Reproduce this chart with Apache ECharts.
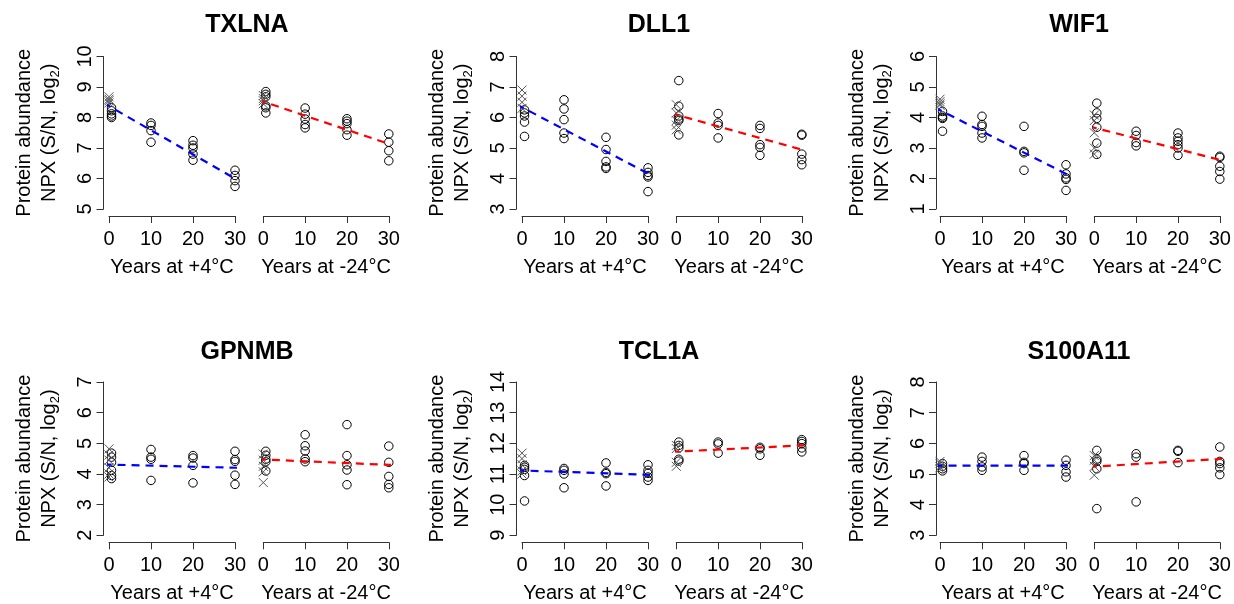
<!DOCTYPE html>
<html>
<head>
<meta charset="utf-8">
<script src="https://cdn.jsdelivr.net/npm/echarts/dist/echarts.min.js"></script>
<style>
html,body{margin:0;padding:0;background:#fff;}
#chart{width:1234px;height:604px;}
</style>
</head>
<body>
<div id="chart"></div>
<script>
// ---------- data ----------
const proteins = ['TXLNA', 'DLL1', 'WIF1', 'GPNMB', 'TCL1A', 'S100A11'];
const yTickMin = [5, 3, 1, 2, 9, 3];
const yTickMax = [10, 8, 6, 7, 14, 8];
const xTicks = [0, 10, 20, 30];
const xTitles = ['Years at +4°C', 'Years at -24°C'];
const refYear = 0;                       // crosses (baseline)
const sampleYears = [0.6, 10, 20, 30];   // circles
const fitYears = [-1.3, 31.2];           // dashed fit line extent

// +4°C  : ref = crosses, groups = circles at sampleYears, fit = line values at fitYears
const TXLNA_p4_ref = [8.68, 8.6, 8.55, 8.48];
const TXLNA_p4 = [[8.32, 8.22, 8.12, 8.05, 8.0], [7.82, 7.74, 7.57, 7.19], [7.24, 7.09, 7.0, 6.8, 6.6], [6.27, 6.1, 5.93, 5.74]];
const TXLNA_p4_fit = [8.48, 5.9];
const TXLNA_m24_ref = [8.72, 8.62, 8.55, 8.45];
const TXLNA_m24 = [[8.85, 8.76, 8.68, 8.38, 8.32, 8.15], [8.31, 8.11, 7.95, 7.77, 7.66], [7.96, 7.88, 7.8, 7.6, 7.42], [7.46, 7.19, 6.91, 6.58]];
const TXLNA_m24_fit = [8.58, 7.08];

const DLL1_p4_ref = [6.9, 6.7, 6.5, 6.3];
const DLL1_p4 = [[6.25, 6.15, 6.05, 5.85, 5.38], [6.58, 6.28, 5.93, 5.49, 5.31], [5.35, 4.95, 4.56, 4.38, 4.33], [4.35, 4.2, 4.1, 4.05, 3.57]];
const DLL1_p4_fit = [6.43, 4.08];
const DLL1_m24_ref = [6.42, 6.15, 5.9, 5.75, 5.6];
const DLL1_m24 = [[7.21, 6.37, 6.05, 5.95, 5.9, 5.43], [6.13, 5.82, 5.74, 5.33], [5.74, 5.64, 5.11, 5.02, 4.76], [5.45, 5.42, 4.8, 4.62, 4.45]];
const DLL1_m24_fit = [6.14, 4.9];

const WIF1_p4_ref = [4.6, 4.52, 4.45, 4.4];
const WIF1_p4 = [[4.2, 4.05, 4.0, 3.97, 3.55], [4.04, 3.77, 3.71, 3.49, 3.33], [3.71, 2.89, 2.84, 2.27], [2.45, 2.15, 2.02, 1.97, 1.61]];
const WIF1_p4_fit = [4.33, 2.07];
const WIF1_m24_ref = [4.08, 3.9, 3.5, 3.0, 2.8];
const WIF1_m24 = [[4.47, 4.15, 3.97, 3.68, 3.16, 2.79], [3.55, 3.41, 3.18, 3.07], [3.49, 3.33, 3.22, 3.11, 3.0, 2.76], [2.73, 2.69, 2.4, 2.23, 1.98]];
const WIF1_m24_fit = [3.71, 2.57];

const GPNMB_p4_ref = [4.82, 4.62, 4.45, 4.2, 4.0, 3.9];
const GPNMB_p4 = [[4.68, 4.55, 4.38, 4.12, 3.95, 3.85], [4.8, 4.55, 4.48, 3.79], [4.6, 4.52, 4.28, 3.71], [4.74, 4.47, 4.41, 3.96, 3.66]];
const GPNMB_p4_fit = [4.31, 4.2];
const GPNMB_m24_ref = [4.65, 4.45, 4.25, 4.07, 3.72];
const GPNMB_m24 = [[4.74, 4.61, 4.48, 4.4, 4.1], [5.28, 4.92, 4.75, 4.49, 4.4], [5.61, 4.6, 4.3, 4.13, 3.65], [4.91, 4.38, 3.92, 3.66, 3.55]];
const GPNMB_m24_fit = [4.48, 4.29];

const TCL1A_p4_ref = [11.68, 11.5, 11.3, 11.1, 11.0];
const TCL1A_p4 = [[11.28, 11.22, 11.15, 10.95, 10.12], [11.18, 11.12, 11.0, 10.55], [11.36, 11.05, 11.01, 10.61], [11.3, 11.12, 11.02, 10.9, 10.79]];
const TCL1A_p4_fit = [11.12, 10.97];
const TCL1A_m24_ref = [11.93, 11.83, 11.38, 11.25];
const TCL1A_m24 = [[12.04, 11.93, 11.85, 11.48, 11.42], [12.04, 11.98, 11.68], [11.87, 11.82, 11.61], [12.12, 12.06, 11.99, 11.85, 11.72]];
const TCL1A_m24_fit = [11.72, 11.94];

const S100A11_p4_ref = [5.41, 5.34, 5.23, 5.17];
const S100A11_p4 = [[5.34, 5.25, 5.17, 5.1], [5.55, 5.41, 5.23, 5.12], [5.6, 5.38, 5.34, 5.12], [5.45, 5.28, 5.07, 4.9]];
const S100A11_p4_fit = [5.27, 5.27];
const S100A11_m24_ref = [5.6, 5.45, 5.25, 4.96];
const S100A11_m24 = [[5.77, 5.48, 5.41, 5.17, 3.87], [5.66, 5.55, 4.09], [5.77, 5.74, 5.37], [5.88, 5.41, 5.34, 5.2, 4.98]];
const S100A11_m24_fit = [5.23, 5.5];

const panels = {
  TXLNA: [[TXLNA_p4_ref, TXLNA_p4, TXLNA_p4_fit], [TXLNA_m24_ref, TXLNA_m24, TXLNA_m24_fit]],
  DLL1: [[DLL1_p4_ref, DLL1_p4, DLL1_p4_fit], [DLL1_m24_ref, DLL1_m24, DLL1_m24_fit]],
  WIF1: [[WIF1_p4_ref, WIF1_p4, WIF1_p4_fit], [WIF1_m24_ref, WIF1_m24, WIF1_m24_fit]],
  GPNMB: [[GPNMB_p4_ref, GPNMB_p4, GPNMB_p4_fit], [GPNMB_m24_ref, GPNMB_m24, GPNMB_m24_fit]],
  TCL1A: [[TCL1A_p4_ref, TCL1A_p4, TCL1A_p4_fit], [TCL1A_m24_ref, TCL1A_m24, TCL1A_m24_fit]],
  S100A11: [[S100A11_p4_ref, S100A11_p4, S100A11_p4_fit], [S100A11_m24_ref, S100A11_m24, S100A11_m24_fit]]
};

// ---------- layout ----------
const FONT = '"Liberation Sans", Arial, Helvetica, sans-serif';
const colLeftX0 = [109, 522, 940];
const colRightX0 = [263.3, 676.3, 1094.3];
const subW = [126, 125.5];
const yAxisOffset = [5.5, 5.5, 4];
const rowTop = [56.5, 382];
const rowH = [152.5, 153.3];
const titleX = [247, 659, 1079];
const titleY = [25, 351.7];
const fitColors = ['#0000ff', '#ff0000'];
const AXIS_COLOR = '#333';

const grids = [], xAxes = [], yAxes = [], series = [], graphics = [];

proteins.forEach((name, k) => {
  const r = Math.floor(k / 3), c = k % 3;
  graphics.push({
    type: 'text', x: titleX[c], y: titleY[r], silent: true,
    style: { text: name, fontSize: 25, fontWeight: 'bold', fontFamily: FONT, fill: '#000', align: 'center', verticalAlign: 'middle' }
  });
  const axisX = colLeftX0[c] - yAxisOffset[c];
  const midY = rowTop[r] + rowH[r] / 2;
  graphics.push({
    type: 'text', x: axisX - 79, y: midY, rotation: Math.PI / 2, silent: true,
    style: { text: 'Protein abundance', fontSize: 20, fontFamily: FONT, fill: '#000', align: 'center', verticalAlign: 'middle' }
  });
  graphics.push({
    type: 'text', x: axisX - 54, y: midY, rotation: Math.PI / 2, silent: true,
    style: {
      text: 'NPX (S/N, log{s|2})', fontSize: 20, fontFamily: FONT, fill: '#000', align: 'center', verticalAlign: 'middle',
      lineHeight: 24,
      rich: { s: { fontSize: 13, fontFamily: FONT, fill: '#000', verticalAlign: 'bottom', lineHeight: 12 } }
    }
  });

  [0, 1].forEach(s => {
    const idx = k * 2 + s;
    const [ref, groups, fit] = panels[name][s];
    grids.push({
      left: s === 0 ? colLeftX0[c] : colRightX0[c],
      top: rowTop[r], width: subW[s], height: rowH[r],
      containLabel: false, outerBoundsMode: 'none'
    });
    xAxes.push({
      gridIndex: idx, type: 'value', min: xTicks[0], max: xTicks[xTicks.length - 1], interval: 10,
      position: 'bottom', offset: 7,
      axisLine: { show: true, onZero: false, lineStyle: { color: AXIS_COLOR, width: 1 } },
      axisTick: { show: true, inside: false, length: 7, lineStyle: { color: AXIS_COLOR, width: 1 } },
      axisLabel: { show: true, fontSize: 20, fontFamily: FONT, color: '#000', margin: 13 },
      splitLine: { show: false },
      name: xTitles[s], nameLocation: 'middle', nameGap: 41,
      nameTextStyle: { fontSize: 20, fontFamily: FONT, color: '#000' }
    });
    yAxes.push({
      gridIndex: idx, type: 'value', min: yTickMin[k], max: yTickMax[k], interval: 1,
      show: s === 0, position: 'left', offset: yAxisOffset[c],
      axisLine: { show: true, onZero: false, lineStyle: { color: AXIS_COLOR, width: 1 } },
      axisTick: { show: true, inside: false, length: 7, lineStyle: { color: AXIS_COLOR, width: 1 } },
      axisLabel: { show: true, rotate: 90, fontSize: 20, fontFamily: FONT, color: '#000', margin: 8 },
      splitLine: { show: false }
    });
    const circles = [];
    groups.forEach((vals, g) => vals.forEach(v => circles.push([sampleYears[g], v])));
    series.push({
      type: 'scatter', xAxisIndex: idx, yAxisIndex: idx, clip: false, silent: true, z: 3,
      symbol: 'circle', symbolSize: 8.5,
      itemStyle: { color: 'rgba(0,0,0,0)', borderColor: '#000', borderWidth: 1, opacity: 1 },
      data: circles
    });
    series.push({
      type: 'scatter', xAxisIndex: idx, yAxisIndex: idx, clip: false, silent: true, z: 3,
      symbol: 'path://M0,0L10,10M10,0L0,10', symbolSize: 9,
      itemStyle: { color: 'none', borderColor: '#555', borderWidth: 1, opacity: 1 },
      data: ref.map(v => [refYear, v])
    });
    series.push({
      type: 'line', xAxisIndex: idx, yAxisIndex: idx, clip: false, silent: true, z: 4,
      symbol: 'none', animation: false,
      lineStyle: { color: fitColors[s], width: 2.2, type: [8, 6] },
      data: [[fitYears[0], fit[0]], [fitYears[1], fit[1]]]
    });
  });
});

const chart = echarts.init(document.getElementById('chart'), null, { renderer: 'canvas' });
chart.setOption({
  backgroundColor: '#ffffff',
  animation: false,
  grid: grids,
  xAxis: xAxes,
  yAxis: yAxes,
  series: series,
  graphic: graphics
});
</script>
</body>
</html>
